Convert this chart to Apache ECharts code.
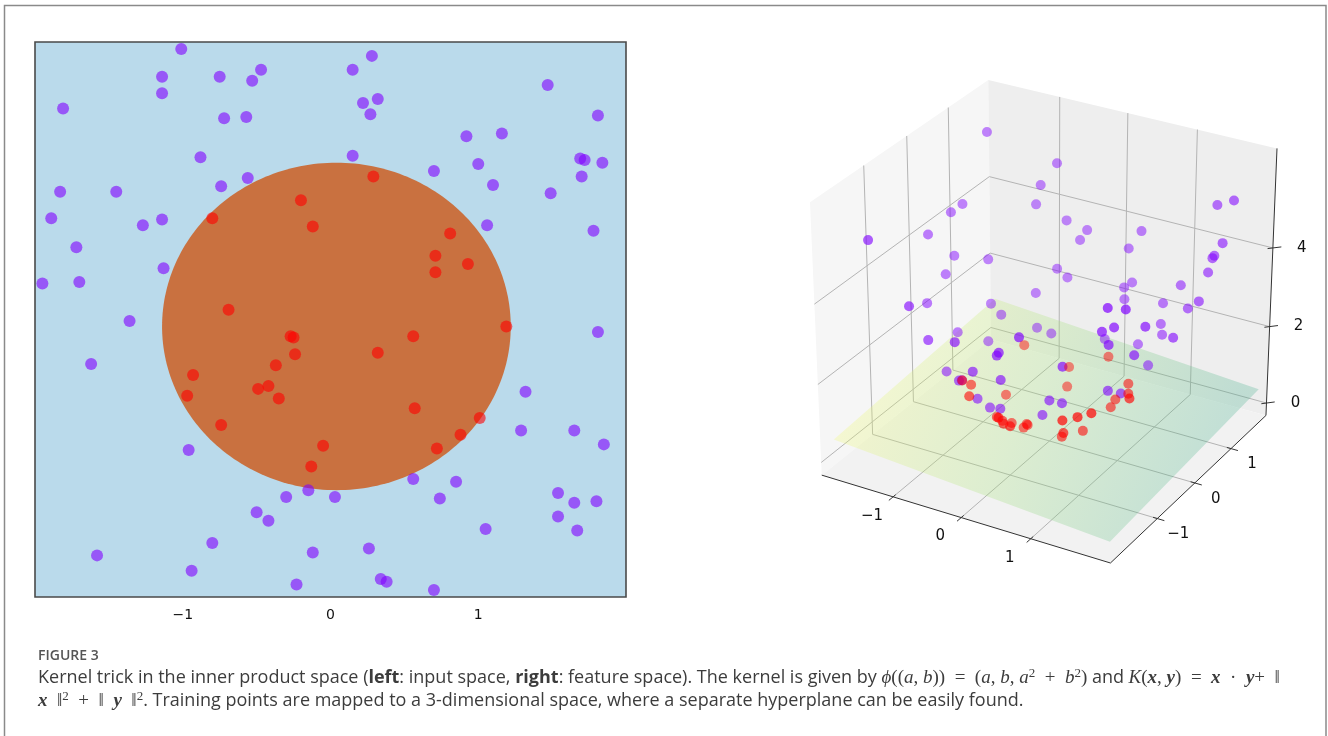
<!DOCTYPE html>
<html><head><meta charset="utf-8">
<script src="https://cdn.jsdelivr.net/npm/echarts@6/dist/echarts.min.js"></script>
<style>html,body{margin:0;padding:0;background:#fff}#c{width:1328px;height:736px}</style>
</head><body><div id="c"></div><script>
// ---------- data (input space) ----------
const purpleX = [-1.01,-1.14,-1.14,-0.75,-0.47,-0.53,-1.81,-0.72,-0.57,-0.88,-0.56,-0.74,-1.83,-1.45,-1.89,-1.27,-1.14,-1.72,-1.13,-1.95,-1.70,-1.36,
  0.28,0.15,0.22,0.32,0.27,1.47,1.81,0.92,1.16,0.15,0.70,1.00,1.10,1.69,1.72,1.84,1.70,1.49,1.06,1.78,
  -1.62,-0.96,-0.30,-0.15,-0.50,-0.42,-0.80,-1.58,-0.12,-0.94,-0.23,
  1.81,1.32,1.29,1.65,1.85,0.56,0.85,0.74,0.03,1.54,1.65,1.80,1.54,1.67,1.05,0.26,0.34,0.38,0.70];
const purpleY = [1.95,1.75,1.63,1.75,1.80,1.72,1.52,1.45,1.46,1.17,1.02,0.96,0.92,0.92,0.73,0.68,0.72,0.52,0.37,0.26,0.27,-0.01,
  1.90,1.80,1.56,1.59,1.48,1.69,1.47,1.32,1.34,1.18,1.07,1.12,0.97,1.16,1.15,1.13,1.03,0.91,0.68,0.64,
  -0.32,-0.94,-1.28,-1.23,-1.39,-1.45,-1.61,-1.70,-1.68,-1.81,-1.91,
  -0.09,-0.52,-0.80,-0.80,-0.90,-1.15,-1.17,-1.29,-1.28,-1.25,-1.32,-1.31,-1.42,-1.52,-1.51,-1.65,-1.87,-1.89,-1.95];
const redX = [-0.20,-0.12,-0.80,-0.69,0.29,0.81,0.71,0.93,0.71,1.19,-0.25,-0.27,-0.24,-0.37,-0.93,-0.97,-0.49,-0.42,-0.35,-0.74,-0.05,-0.13,0.56,0.32,0.57,1.01,0.88,0.72];
const redY = [0.86,0.67,0.73,0.07,1.03,0.62,0.46,0.40,0.34,-0.05,-0.13,-0.12,-0.25,-0.33,-0.40,-0.55,-0.50,-0.48,-0.57,-0.76,-0.91,-1.06,-0.12,-0.24,-0.64,-0.71,-0.83,-0.93];
const circleCenter = [0.04, -0.05];
const circleRadius = 1.18;
const tickValues2d = [-1, 0, 1];
// ---------- feature space axes ----------
const xTicks3d = [-1, 0, 1];
const yTicks3d = [-1, 0, 1];
const zTicks3d = [0, 2, 4];
const LIM = {x: [-2.07, 2.12], y: [-2.2, 2.0], z: [-0.33, 6.45]};
const planeX = [-2.0, 2.0];
const planeY = [-2.0, 2.0];
const planeC = 0.38, planeA = -0.1265, planeB = 0.0885;   // plane z = c + a*x + b*y

const fmt = v => v < 0 ? '\u2212' + Math.abs(v) : String(v);

// classic matplotlib 3D perspective projection (unit cube, elev 30, azim -60, dist 10)
const proj = (function () {
  const A = [1, 1, 1];
  const R = A.map(v => v / 2);
  const e = 30 * Math.PI / 180, a = -60 * Math.PI / 180, dist = 10;
  const w = [Math.cos(e) * Math.cos(a), Math.cos(e) * Math.sin(a), Math.sin(e)];
  const eye = R.map((r, i) => r + dist * w[i]);
  let u = [-w[1], w[0], 0];
  const nu = Math.hypot(u[0], u[1], u[2]); u = u.map(q => q / nu);
  const v = [w[1] * u[2] - w[2] * u[1], w[2] * u[0] - w[0] * u[2], w[0] * u[1] - w[1] * u[0]];
  const dot = (p, q) => p[0] * q[0] + p[1] * q[1] + p[2] * q[2];
  return function (x, y, z) {
    const p = [(x - LIM.x[0]) / (LIM.x[1] - LIM.x[0]) * A[0],
               (y - LIM.y[0]) / (LIM.y[1] - LIM.y[0]) * A[1],
               (z - LIM.z[0]) / (LIM.z[1] - LIM.z[0]) * A[2]];
    const d = [p[0] - eye[0], p[1] - eye[1], p[2] - eye[2]];
    const vz = dot(w, d);
    return [dot(u, d) / (-vz), dot(v, d) / (-vz), -vz];
  };
})();

// bounding box of the projected box
const corners = [];
LIM.x.forEach(x => LIM.y.forEach(y => LIM.z.forEach(z => corners.push(proj(x, y, z)))));
const bb = {
  x0: Math.min(...corners.map(c => c[0])), x1: Math.max(...corners.map(c => c[0])),
  y0: Math.min(...corners.map(c => c[1])), y1: Math.max(...corners.map(c => c[1]))
};

// feature map phi(a,b) = (a, b, a^2 + b^2)
function mapped(xs, ys) {
  const pts = xs.map((x, i) => { const y = ys[i]; const z = x * x + y * y; return proj(x, y, z); });
  const ds = pts.map(p => p[2]);
  const dmin = Math.min(...ds), dmax = Math.max(...ds);
  return pts.map(p => ({value: [p[0], p[1]], depth: p[2],
      itemStyle: {opacity: 0.7 - 0.25 * (p[2] - dmin) / (dmax - dmin)}}))
    .sort((a, b) => b.depth - a.depth);
}
const purple3d = mapped(purpleX, purpleY);
const red3d = mapped(redX, redY);

function sceneRender(params, api) {
  const P = (x, y, z) => { const q = proj(x, y, z); return api.coord([q[0], q[1]]); };
  const [x0, x1] = LIM.x, [y0, y1] = LIM.y, [z0, z1] = LIM.z;
  const ch = [];
  const poly = (pts, fill) => ({type: 'polygon', shape: {points: pts}, style: {fill: fill}});
  const line = (a, b, stroke, lw) => ({type: 'line', shape: {x1: a[0], y1: a[1], x2: b[0], y2: b[1]}, style: {stroke: stroke, lineWidth: lw}});
  ch.push(poly([P(x0, y0, z0), P(x0, y1, z0), P(x0, y1, z1), P(x0, y0, z1)], '#f6f6f6'));
  ch.push(poly([P(x0, y1, z0), P(x1, y1, z0), P(x1, y1, z1), P(x0, y1, z1)], '#eeeeee'));
  ch.push(poly([P(x0, y0, z0), P(x1, y0, z0), P(x1, y1, z0), P(x0, y1, z0)], '#f2f2f2'));
  const gc = '#b4b4b4';
  yTicks3d.forEach(t => ch.push(line(P(x0, t, z0), P(x0, t, z1), gc, 1)));
  zTicks3d.forEach(t => ch.push(line(P(x0, y0, t), P(x0, y1, t), gc, 1)));
  xTicks3d.forEach(t => ch.push(line(P(t, y1, z0), P(t, y1, z1), gc, 1)));
  zTicks3d.forEach(t => ch.push(line(P(x0, y1, t), P(x1, y1, t), gc, 1)));
  xTicks3d.forEach(t => ch.push(line(P(t, y0, z0), P(t, y1, z0), gc, 1)));
  yTicks3d.forEach(t => ch.push(line(P(x0, t, z0), P(x1, t, z0), gc, 1)));
  // plane
  const pz = (x, y) => planeC + planeA * x + planeB * y;
  ch.push({type: 'polygon', shape: {points: [
      P(planeX[0], planeY[0], pz(planeX[0], planeY[0])), P(planeX[1], planeY[0], pz(planeX[1], planeY[0])),
      P(planeX[1], planeY[1], pz(planeX[1], planeY[1])), P(planeX[0], planeY[1], pz(planeX[0], planeY[1]))]},
    style: {fill: new echarts.graphic.LinearGradient(0, 0.25, 0.85, 0.85, [
      {offset: 0, color: 'rgba(255,255,110,0.28)'},
      {offset: 0.5, color: 'rgba(165,225,120,0.28)'},
      {offset: 1, color: 'rgba(70,175,140,0.28)'}])}});
  // axis lines
  const ac = '#333';
  ch.push(line(P(x0, y0, z0), P(x1, y0, z0), ac, 1));
  ch.push(line(P(x1, y0, z0), P(x1, y1, z0), ac, 1));
  ch.push(line(P(x1, y1, z0), P(x1, y1, z1), ac, 1));
  const lab = (pt, text, dx, dy) => ({type: 'text', style: {text: text, x: pt[0] + dx, y: pt[1] + dy,
      fill: '#111', fontSize: 15, fontFamily: 'DejaVu Sans', align: 'center', verticalAlign: 'middle'}});
  xTicks3d.forEach(t => {
    ch.push(line(P(t, y0 + 0.06, z0), P(t, y0 - 0.1, z0), ac, 1));
    ch.push(lab(P(t, y0, z0), fmt(t), -21, 19));
  });
  yTicks3d.forEach(t => {
    ch.push(line(P(x1 - 0.06, t, z0), P(x1 + 0.1, t, z0), ac, 1));
    ch.push(lab(P(x1, t, z0), fmt(t), 21, 16));
  });
  zTicks3d.forEach(t => {
    ch.push(line(P(x1 - 0.05, y1 - 0.05, t), P(x1 + 0.08, y1 + 0.08, t), ac, 1));
    ch.push(lab(P(x1, y1, t), fmt(t), 29, 0));
  });
  return {type: 'group', children: ch};
}

function circleRender(params, api) {
  const pts = [];
  for (let i = 0; i < 240; i++) {
    const t = i / 240 * Math.PI * 2;
    pts.push(api.coord([circleCenter[0] + circleRadius * Math.cos(t), circleCenter[1] + circleRadius * Math.sin(t)]));
  }
  return {type: 'polygon', shape: {points: pts}, style: {fill: '#c97140'}};
}

const chart = echarts.init(document.getElementById('c'), null, {renderer: 'canvas'});
const serif = "'Liberation Serif','DejaVu Serif',serif";
const tc = '#3c3c3c';
const richCommon = {
  b: {fontWeight: 'bold', fontSize: 18, fontFamily: 'Open Sans', fill: tc},
  m: {fontStyle: 'italic', fontSize: 19, fontFamily: serif, fill: tc},
  r: {fontSize: 19, fontFamily: serif, fill: tc},
  mb: {fontStyle: 'italic', fontWeight: 'bold', fontSize: 19, fontFamily: serif, fill: tc},
  s: {fontSize: 13, fontFamily: serif, verticalAlign: 'top', lineHeight: 12, fill: tc}
};
chart.setOption({
  animation: false,
  grid: [
    {left: 35, top: 42, width: 591, height: 555, show: true, backgroundColor: '#badaeb', borderColor: '#4a4a4a', borderWidth: 1.6},
    {left: 810, top: 80, width: 467, height: 483}
  ],
  xAxis: [
    {gridIndex: 0, type: 'value', min: -2, max: 2, interval: 1, splitLine: {show: false},
     axisLine: {show: false},
     axisTick: {show: true, length: 5, customValues: tickValues2d, lineStyle: {color: '#333'}},
     axisLabel: {customValues: tickValues2d, formatter: fmt, color: '#111', fontSize: 14, fontFamily: 'DejaVu Sans', margin: 11}},
    {gridIndex: 1, type: 'value', min: bb.x0, max: bb.x1, show: false}
  ],
  yAxis: [
    {gridIndex: 0, type: 'value', min: -2, max: 2, interval: 1, splitLine: {show: false},
     axisLine: {show: false},
     axisTick: {show: true, length: 5, customValues: tickValues2d, lineStyle: {color: '#333'}},
     axisLabel: {show: false}},
    {gridIndex: 1, type: 'value', min: bb.y0, max: bb.y1, show: false}
  ],
  series: [
    {type: 'custom', xAxisIndex: 0, yAxisIndex: 0, data: [[0, 0]], renderItem: circleRender, z: 1, silent: true, clip: false},
    {type: 'scatter', xAxisIndex: 0, yAxisIndex: 0, data: purpleX.map((x, i) => [x, purpleY[i]]), symbolSize: 12,
     itemStyle: {color: '#8000ff', opacity: 0.6}, z: 3},
    {type: 'scatter', xAxisIndex: 0, yAxisIndex: 0, data: redX.map((x, i) => [x, redY[i]]), symbolSize: 12,
     itemStyle: {color: '#ff0000', opacity: 0.6}, z: 3},
    {type: 'custom', xAxisIndex: 1, yAxisIndex: 1, data: [[0, 0]], renderItem: sceneRender, z: 1, silent: true, clip: false},
    {type: 'scatter', xAxisIndex: 1, yAxisIndex: 1, data: purple3d, symbolSize: 10, itemStyle: {color: '#8000ff'}, z: 3},
    {type: 'scatter', xAxisIndex: 1, yAxisIndex: 1, data: red3d, symbolSize: 10, itemStyle: {color: '#ff0000'}, z: 4}
  ],
  graphic: [
    {type: 'rect', shape: {x: 4.5, y: 5.5, width: 1321.5, height: 780}, style: {fill: 'none', stroke: '#8a8a8a', lineWidth: 1.5}, z: 10},
    {type: 'text', x: 38, y: 656, style: {text: 'FIGURE 3', fill: '#555', font: "600 14px 'Open Sans'", verticalAlign: 'middle'}},
    {type: 'text', x: 38, y: 678, style: {
      text: 'Kernel trick in the inner product space ({b|left}: input space, {b|right}: feature space). The kernel is given by {m|\u03d5}{r|((}{m|a}{r|, }{m|b}{r|))  =  (}{m|a}{r|, }{m|b}{r|, }{m|a}{s|2}{r|  +  }{m|b}{s|2}{r|)} and {m|K}{r|(}{mb|x}{r|, }{mb|y}{r|)  =  }{mb|x}{r|  \u00b7  }{mb|y}{r|+  \u2016}',
      fill: tc, font: "18px 'Open Sans'", verticalAlign: 'middle', lineHeight: 22, rich: richCommon}},
    {type: 'text', x: 38, y: 701, style: {
      text: '{mb|x}{r|  \u2016}{s|2}{r|  +  \u2016  }{mb|y}{r|  \u2016}{s|2}. Training points are mapped to a 3-dimensional space, where a separate hyperplane can be easily found.',
      fill: tc, font: "18px 'Open Sans'", verticalAlign: 'middle', lineHeight: 22, rich: richCommon}}
  ]
});
</script></body></html>
